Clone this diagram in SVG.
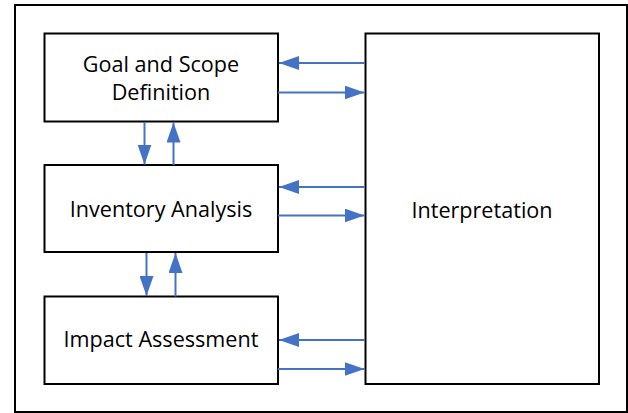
<svg xmlns="http://www.w3.org/2000/svg" width="628" height="413" viewBox="0 0 628 413">
<defs>
<style>
.box{fill:#fff;stroke:#000;stroke-width:2}
.lbl{font-family:"Open Sans","Liberation Sans",sans-serif;font-size:21.6px;fill:#000;text-anchor:middle}
.con{stroke:#4472C4;stroke-width:2;fill:none}
</style>
<marker id="ah" viewBox="0 0 20 14" refX="20" refY="7" markerWidth="20" markerHeight="14" markerUnits="userSpaceOnUse" orient="auto">
<path d="M0,0 L20,7 L0,14 Z" fill="#4472C4"/>
</marker>
</defs>
<rect x="0" y="0" width="628" height="413" fill="#fff"/>
<rect x="15" y="5" width="612" height="407" fill="#fff" stroke="#000" stroke-width="2"/>
<g id="goal">
<rect class="box" x="44.5" y="33.5" width="233.5" height="88"/>
<text class="lbl" x="161" y="72">Goal and Scope</text>
<text class="lbl" x="161" y="100">Definition</text>
</g>
<g id="inventory">
<rect class="box" x="44.5" y="165" width="233.5" height="87"/>
<text class="lbl" x="161" y="217">Inventory Analysis</text>
</g>
<g id="impact">
<rect class="box" x="44.5" y="296.5" width="233.5" height="87.5"/>
<text class="lbl" x="161" y="347">Impact Assessment</text>
</g>
<g id="interpretation">
<rect class="box" x="365.5" y="33.5" width="233.5" height="350.5"/>
<text class="lbl" x="482" y="218">Interpretation</text>
</g>
<g id="connectors">
<line class="con" x1="365" y1="63" x2="279" y2="63" marker-end="url(#ah)"/>
<line class="con" x1="278" y1="92.5" x2="364.5" y2="92.5" marker-end="url(#ah)"/>
<line class="con" x1="144.5" y1="122" x2="144.5" y2="164.5" marker-end="url(#ah)"/>
<line class="con" x1="173.5" y1="165" x2="173.5" y2="122.5" marker-end="url(#ah)"/>
<line class="con" x1="365" y1="187" x2="279" y2="187" marker-end="url(#ah)"/>
<line class="con" x1="278" y1="215.5" x2="364.5" y2="215.5" marker-end="url(#ah)"/>
<line class="con" x1="146.5" y1="253" x2="146.5" y2="296" marker-end="url(#ah)"/>
<line class="con" x1="175.5" y1="296.5" x2="175.5" y2="253" marker-end="url(#ah)"/>
<line class="con" x1="365" y1="340" x2="279" y2="340" marker-end="url(#ah)"/>
<line class="con" x1="278" y1="369" x2="364.5" y2="369" marker-end="url(#ah)"/>
</g>
</svg>
